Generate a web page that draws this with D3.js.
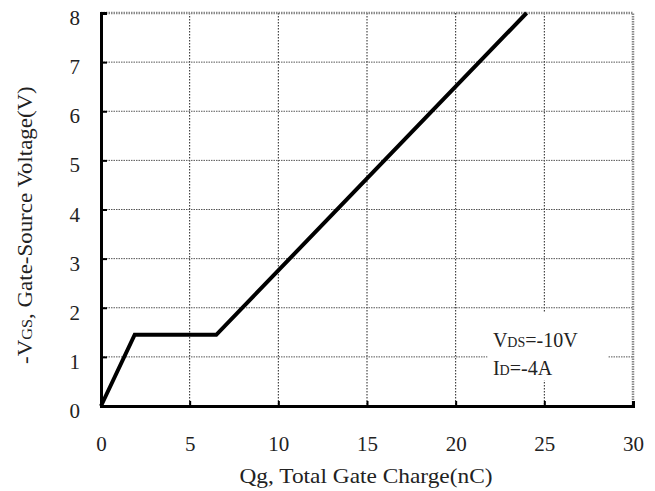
<!DOCTYPE html>
<html>
<head>
<meta charset="utf-8" />
<script src="https://cdn.jsdelivr.net/npm/d3@7"></script>
<style>
body { margin: 0; background: #fff; }
text { font-family: "Liberation Serif", "DejaVu Serif", serif; fill: #222; }
</style>
</head>
<body>
<script>
// gate charge curve: Qg (nC) vs -VGS (V)
var qg  = [0, 1.9, 6.5, 24];
var vgs = [0, 1.45, 1.45, 8];
var xTicks = [0, 5, 10, 15, 20, 25, 30];
var yTicks = [0, 1, 2, 3, 4, 5, 6, 7, 8];

var W = 655, H = 491;
var m = { left: 101, right: 22, top: 13, bottom: 85 };

var svg = d3.select("body").append("svg")
	.attr("width", W)
	.attr("height", H);

var x = d3.scaleLinear().domain([0, 30]).range([m.left, W - m.right]);
var y = d3.scaleLinear().domain([0, 8]).range([H - m.bottom, m.top]);

// grid
svg.selectAll("line.vg")
	.data(xTicks.slice(1, -1))
	.enter().append("line")
	.attr("x1", function(d){ return x(d); })
	.attr("x2", function(d){ return x(d); })
	.attr("y1", y(8)).attr("y2", y(0))
	.attr("stroke", "#222").attr("stroke-width", 1)
	.attr("stroke-dasharray", "1.5,1.5");

svg.selectAll("line.hg")
	.data(yTicks.slice(1, -1))
	.enter().append("line")
	.attr("x1", x(0)).attr("x2", x(30))
	.attr("y1", function(d){ return y(d); })
	.attr("y2", function(d){ return y(d); })
	.attr("stroke", "#555").attr("stroke-width", 1)
	.attr("stroke-dasharray", "1.5,1");

// top & right border
svg.append("path")
	.attr("d", "M" + x(0) + "," + y(8) + "H" + x(30) + "V" + y(0))
	.attr("fill", "none")
	.attr("stroke", "#888").attr("stroke-width", 2.5)
	.attr("stroke-dasharray", "1.5,1");

// legend box
var lg = svg.append("g");
lg.append("rect")
	.attr("x", x(21.8)).attr("y", y(1.9))
	.attr("width", x(28.6) - x(21.8)).attr("height", y(0.52) - y(1.9))
	.attr("fill", "#fff");
var t1 = lg.append("text").attr("x", x(22.1)).attr("y", y(1.2)).attr("font-size", 20);
t1.append("tspan").text("V");
t1.append("tspan").attr("font-size", 14).text("DS");
t1.append("tspan").text("=-10V");
var t2 = lg.append("text").attr("x", x(22.1)).attr("y", y(0.63)).attr("font-size", 20);
t2.append("tspan").text("I");
t2.append("tspan").attr("font-size", 14).text("D");
t2.append("tspan").text("=-4A");

// axes
var xAxis = svg.append("g")
	.attr("transform", "translate(0," + y(0) + ")")
	.call(d3.axisBottom(x).tickValues(xTicks).tickSize(-5).tickPadding(45));
var yAxis = svg.append("g")
	.attr("transform", "translate(" + x(0) + ",0)")
	.call(d3.axisLeft(y).tickValues(yTicks).tickSize(-6).tickPadding(21));

[xAxis, yAxis].forEach(function(a){
	a.select(".domain").attr("stroke", "#000").attr("stroke-width", 3);
	a.selectAll(".tick line").attr("stroke", "#000").attr("stroke-width", 2);
	a.selectAll(".tick text")
		.attr("font-family", "Liberation Serif")
		.attr("font-size", 21).attr("fill", "#222");
});
xAxis.selectAll(".tick text").attr("dy", "0");
yAxis.selectAll(".tick text").attr("dy", "0.55em");
xAxis.selectAll(".tick").filter(function(d){ return d == 30; }).select("line").remove();
yAxis.selectAll(".tick").filter(function(d){ return d == 8; }).select("line").attr("x2", 5);

// curve
var line = d3.line()
	.x(function(d){ return x(d[0]); })
	.y(function(d){ return y(d[1]); });
svg.append("path")
	.datum(qg.map(function(q, i){ return [q, vgs[i]]; }))
	.attr("d", line)
	.attr("fill", "none")
	.attr("stroke", "#000")
	.attr("stroke-width", 4)
	.attr("stroke-linejoin", "miter");

// titles
svg.append("text")
	.attr("x", 366).attr("y", 483)
	.attr("text-anchor", "middle").attr("font-size", 22)
	.attr("textLength", 253).attr("lengthAdjust", "spacingAndGlyphs")
	.text("Qg, Total Gate Charge(nC)");

// y title, rotated, squeezed to the reference length
var ytg = svg.append("g");
var yt = ytg.append("text").attr("font-size", 21);
yt.append("tspan").text("-V");
yt.append("tspan").attr("font-size", 15).text("GS");
yt.append("tspan").text(", Gate-Source Voltage(V)");
var bb = yt.node().getBBox();
var k = 278 / bb.width;
yt.attr("transform", "scale(" + k + ",1) translate(" + (-bb.x - bb.width / 2) + ",0)");
ytg.attr("transform", "translate(32,225) rotate(-90)");
</script>
</body>
</html>
